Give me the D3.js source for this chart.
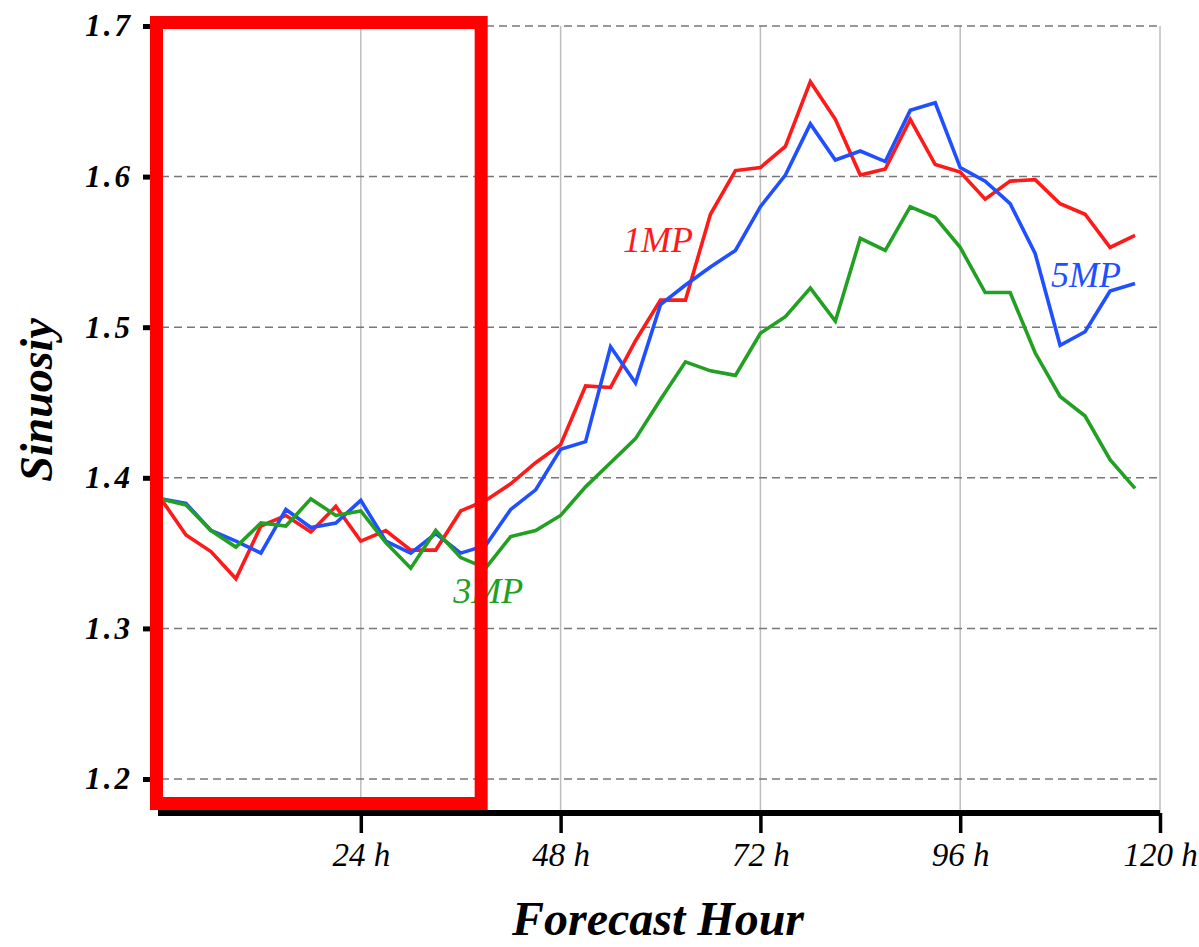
<!DOCTYPE html>
<html>
<head>
<meta charset="utf-8">
<script src="https://cdn.jsdelivr.net/npm/d3@7"></script>
<style>
  body { margin: 0; background: #fff; }
  svg { display: block; font-family: "Liberation Serif", "Times New Roman", serif; }
</style>
</head>
<body>
<svg></svg>
<script>
// forecast hours (every 3 h)
const hours = [0, 3, 6, 9, 12, 15, 18, 21, 24, 27, 30, 33, 36, 39, 42, 45, 48, 51, 54, 57,
  60, 63, 66, 69, 72, 75, 78, 81, 84, 87, 90, 93, 96, 99, 102, 105, 108, 111, 114, 117];

const mp1 = [1.386, 1.362, 1.351, 1.333, 1.368, 1.375, 1.364, 1.381, 1.358, 1.365,
  1.352, 1.352, 1.378, 1.385, 1.396, 1.410, 1.422, 1.461, 1.460, 1.491,
  1.518, 1.518, 1.575, 1.604, 1.606, 1.620, 1.663, 1.638, 1.601, 1.605,
  1.638, 1.608, 1.603, 1.585, 1.597, 1.598, 1.582, 1.575, 1.553, 1.561];

const mp5 = [1.386, 1.383, 1.365, 1.358, 1.350, 1.379, 1.367, 1.370, 1.385, 1.358,
  1.350, 1.363, 1.350, 1.355, 1.379, 1.392, 1.419, 1.424, 1.487, 1.463,
  1.515, 1.528, 1.540, 1.551, 1.580, 1.601, 1.635, 1.611, 1.617, 1.610,
  1.644, 1.649, 1.606, 1.597, 1.582, 1.549, 1.488, 1.497, 1.524, 1.529];

const mp3 = [1.386, 1.382, 1.365, 1.354, 1.370, 1.368, 1.386, 1.375, 1.378, 1.357,
  1.340, 1.365, 1.347, 1.340, 1.361, 1.365, 1.375, 1.394, 1.410, 1.426,
  1.452, 1.477, 1.471, 1.468, 1.496, 1.507, 1.526, 1.504, 1.559, 1.551,
  1.580, 1.573, 1.553, 1.523, 1.523, 1.483, 1.454, 1.441, 1.412, 1.393];

const xTicks = [24, 48, 72, 96, 120];
const yTicks = [1.2, 1.3, 1.4, 1.5, 1.6, 1.7];

const series = [
  { name: "1MP", values: mp1, color: "#ff1a1a", lx: 55.5, ly: 1.55 },
  { name: "5MP", values: mp5, color: "#1f4fff", lx: 106.9, ly: 1.527 },
  { name: "3MP", values: mp3, color: "#22a022", lx: 35.1, ly: 1.317 },
];

const width = 1199;
const height = 947;
const axisY = 813;

const svg = d3.select("svg").attr("width", width).attr("height", height);

const xScale = d3.scaleLinear().domain([0, 120]).range([161, 1160]);
const yScale = d3.scaleLinear().domain([1.2, 1.7]).range([779, 26]);

// vertical grid
svg.append("g")
  .selectAll("line")
  .data(xTicks)
  .enter()
  .append("line")
  .attr("x1", d => xScale(d))
  .attr("x2", d => xScale(d))
  .attr("y1", yScale(1.7))
  .attr("y2", axisY)
  .attr("stroke", "#bdbdbd")
  .attr("stroke-width", 1.5);

// left border of plot
svg.append("line")
  .attr("x1", xScale(0) + 1).attr("x2", xScale(0) + 1)
  .attr("y1", yScale(1.7)).attr("y2", axisY)
  .attr("stroke", "#bdbdbd")
  .attr("stroke-width", 1.5);

// horizontal dashed grid
svg.append("g")
  .selectAll("line")
  .data(yTicks)
  .enter()
  .append("line")
  .attr("x1", xScale(0))
  .attr("x2", xScale(120))
  .attr("y1", d => yScale(d))
  .attr("y2", d => yScale(d))
  .attr("stroke", "#777")
  .attr("stroke-width", 1.5)
  .attr("stroke-dasharray", "8,5");

// lines
const line = d3.line()
  .x((d, i) => xScale(hours[i]))
  .y(d => yScale(d));

svg.selectAll(".series")
  .data(series)
  .enter()
  .append("path")
  .attr("class", "series")
  .attr("d", d => line(d.values))
  .attr("fill", "none")
  .attr("stroke", d => d.color)
  .attr("stroke-width", 3.6)
  .attr("stroke-linejoin", "miter");

// series labels
svg.selectAll(".series-label")
  .data(series)
  .enter()
  .append("text")
  .attr("class", "series-label")
  .attr("x", d => xScale(d.lx))
  .attr("y", d => yScale(d.ly))
  .attr("fill", d => d.color)
  .style("font-style", "italic")
  .style("font-size", "36px")
  .text(d => d.name);

// x axis
const xAxis = d3.axisBottom(xScale)
  .tickValues(xTicks)
  .tickSizeInner(20)
  .tickSizeOuter(0)
  .tickPadding(10)
  .tickFormat(d => d + " h");

const gx = svg.append("g")
  .attr("transform", `translate(0, ${axisY})`)
  .call(xAxis);
gx.select(".domain")
  .attr("stroke", "#000")
  .attr("stroke-width", 6)
  .attr("d", `M${xScale(0) - 3},0H${xScale(120)}`);
gx.selectAll(".tick line").attr("stroke", "#000").attr("stroke-width", 3.5);
gx.selectAll(".tick text")
  .attr("fill", "#000")
  .style("font-family", "'Liberation Serif', serif")
  .style("font-style", "italic")
  .style("font-size", "33px");

// y axis
const yAxis = d3.axisLeft(yScale)
  .tickValues(yTicks)
  .tickSizeInner(12)
  .tickSizeOuter(0)
  .tickPadding(10)
  .tickFormat(d3.format(".1f"));

const gy = svg.append("g")
  .attr("transform", "translate(155, 0)")
  .call(yAxis);
gy.select(".domain").remove();
gy.selectAll(".tick line").attr("stroke", "#000").attr("stroke-width", 5);
gy.selectAll(".tick text")
  .attr("fill", "#000")
  .style("font-family", "'Liberation Serif', serif")
  .style("font-style", "italic")
  .style("font-weight", "bold")
  .style("font-size", "31px")
  .style("letter-spacing", "3px");

// red highlight box
svg.append("rect")
  .attr("x", xScale(0) - 4.5)
  .attr("y", 22.5)
  .attr("width", xScale(39) - xScale(0))
  .attr("height", 781)
  .attr("fill", "none")
  .attr("stroke", "#ff0000")
  .attr("stroke-width", 13);

// axis titles
svg.append("text")
  .attr("x", 658)
  .attr("y", 935)
  .attr("text-anchor", "middle")
  .style("font-style", "italic")
  .style("font-weight", "bold")
  .style("font-size", "48px")
  .text("Forecast Hour");

svg.append("text")
  .attr("transform", "rotate(-90)")
  .attr("x", -400)
  .attr("y", 52)
  .attr("text-anchor", "middle")
  .style("font-style", "italic")
  .style("font-weight", "bold")
  .style("font-size", "46px")
  .text("Sinuosiy");
</script>
</body>
</html>
